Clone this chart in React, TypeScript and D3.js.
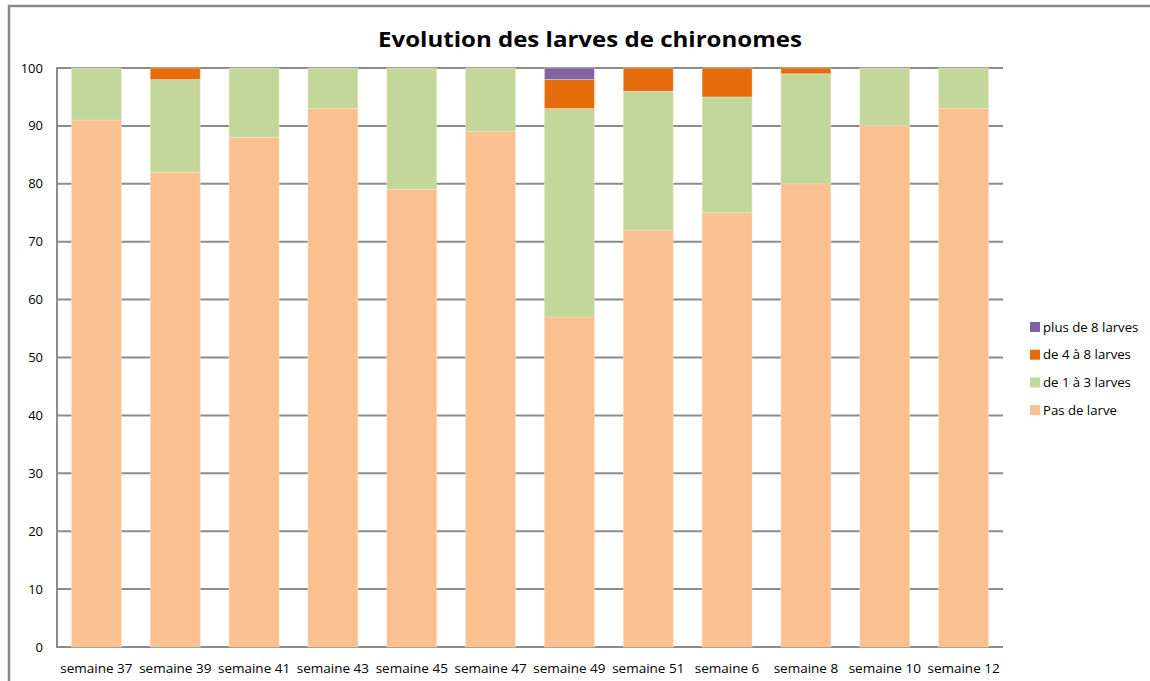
import React, { useEffect } from "react";
import * as d3 from "d3";

const categories = ["semaine 37", "semaine 39", "semaine 41", "semaine 43", "semaine 45", "semaine 47", "semaine 49", "semaine 51", "semaine 6", "semaine 8", "semaine 10", "semaine 12"];
const pasDeLarve = [91, 82, 88, 93, 79, 89, 57, 72, 75, 80, 90, 93];
const de1a3 = [9, 16, 12, 7, 21, 11, 36, 24, 20, 19, 10, 7];
const de4a8 = [0, 2, 0, 0, 0, 0, 5, 4, 5, 1, 0, 0];
const plusDe8 = [0, 0, 0, 0, 0, 0, 2, 0, 0, 0, 0, 0];
const yTicks = [0, 10, 20, 30, 40, 50, 60, 70, 80, 90, 100];

const seriesNames = ["Pas de larve", "de 1 à 3 larves", "de 4 à 8 larves", "plus de 8 larves"];
const seriesColors = ["#FAC090", "#C4D79B", "#E46C0A", "#8064A2"];
const seriesValues = [pasDeLarve, de1a3, de4a8, plusDe8];

const W = 1150, H = 681;
const plot = { left: 57, right: 1003, top: 68, bottom: 647 };
const FONT = "'Open Sans', 'DejaVu Sans', sans-serif";

export default function App() {
  useEffect(() => {
    document.body.style.margin = "0";
  }, []);

  const x = d3.scaleBand<string>().domain(categories).range([plot.left, plot.right]).paddingInner(0.366).paddingOuter(0.183);
  const y = d3.scaleLinear().domain([0, 100]).range([plot.bottom, plot.top]);

  const table = categories.map((c, i) => {
    const row: any = { cat: c };
    seriesNames.forEach((s, k) => (row[s] = seriesValues[k][i]));
    return row;
  });
  const stacked = d3.stack<any>().keys(seriesNames)(table);

  const legendOrder = [3, 2, 1, 0];

  return (
    <svg width={W} height={H} style={{ display: "block", background: "#fff" }}>
      <rect x={9} y={6} width={W + 20} height={H + 20} fill="#fff" stroke="#8a8a8a" strokeWidth={2.5} />
      <text x={590} y={47} textAnchor="middle" fontFamily={FONT} fontWeight="bold" fontSize={22} fill="#000" textLength={424} lengthAdjust="spacingAndGlyphs">
        Evolution des larves de chironomes
      </text>
      {yTicks.map((t) => (
        <g key={t}>
          <line x1={plot.left} x2={plot.right} y1={y(t)} y2={y(t)} stroke="#8c8c8c" strokeWidth={2} />
          <text x={43} y={y(t)} dy="0.35em" textAnchor="end" fontFamily={FONT} fontSize={13} fill="#000">{t}</text>
        </g>
      ))}
      <line x1={plot.left} x2={plot.left} y1={plot.top - 1} y2={plot.bottom + 1} stroke="#8c8c8c" strokeWidth={2} />
      {stacked.map((layer, k) => (
        <g key={k}>
          {layer.map((d, i) =>
            d[1] - d[0] > 0 ? (
              <rect key={i} x={x(categories[i])} y={y(d[1])} width={x.bandwidth()} height={y(d[0]) - y(d[1])} fill={seriesColors[k]} stroke="#fde9d9" strokeOpacity={0.5} strokeWidth={0.8} />
            ) : null
          )}
        </g>
      ))}
      {categories.map((c) => (
        <text key={c} x={(x(c) as number) + x.bandwidth() / 2} y={668} dy="0.35em" textAnchor="middle" fontFamily={FONT} fontSize={13.5} fill="#000">{c}</text>
      ))}
      {legendOrder.map((k, j) => (
        <g key={k} transform={`translate(1030, ${327 + j * 27.7})`}>
          <rect x={0} y={-5} width={10} height={10} fill={seriesColors[k]} />
          <text x={13} y={0} dy="0.35em" fontFamily={FONT} fontSize={13.2} fill="#000">{seriesNames[k]}</text>
        </g>
      ))}
    </svg>
  );
}
